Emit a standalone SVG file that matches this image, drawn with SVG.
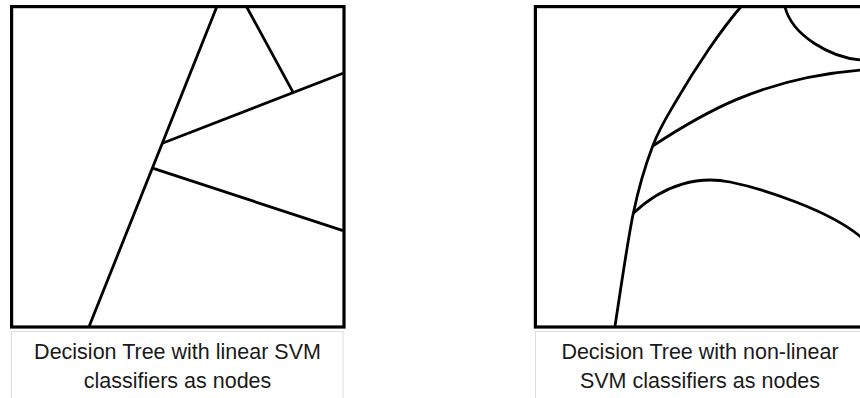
<svg xmlns="http://www.w3.org/2000/svg" width="860" height="398" viewBox="0 0 860 398">
  <style>
    .frame { fill: #ffffff; stroke: #000000; stroke-width: 3.2; }
    .cap { fill: #ffffff; stroke: #dcdcdc; stroke-width: 1; }
    .bound { fill: none; stroke: #000000; stroke-width: 2.8; stroke-linecap: butt; }
    .label { font-family: "Liberation Sans", Arial, sans-serif; font-size: 21.5px; fill: #1a1a1a; text-anchor: middle; }
  </style>
  <rect width="860" height="398" fill="#ffffff"/>

  <g id="linear-panel">
    <rect class="frame" x="11.6" y="6.6" width="332.4" height="320.4"/>
  </g>
  <g id="linear-caption">
    <rect class="cap" x="11.5" y="331.5" width="331.5" height="80"/>
    <text class="label" x="177.5" y="359">Decision Tree with linear SVM</text>
    <text class="label" x="177.5" y="388">classifiers as nodes</text>
  </g>

  <g id="nonlinear-panel">
    <rect class="frame" x="535.4" y="6.6" width="332.4" height="320.4"/>
  </g>
  <g id="nonlinear-caption">
    <rect class="cap" x="535.5" y="331.5" width="340" height="80"/>
    <text class="label" x="700" y="359">Decision Tree with non-linear</text>
    <text class="label" x="700" y="388">SVM classifiers as nodes</text>
  </g>

  <g id="connectors">
    <line class="bound" x1="89.3" y1="326" x2="216.7" y2="7"/>
    <line class="bound" x1="246.7" y1="7" x2="292.7" y2="91.7"/>
    <line class="bound" x1="162.4" y1="143.3" x2="343" y2="73.3"/>
    <line class="bound" x1="153.3" y1="168.3" x2="343" y2="230.7"/>

    <path class="bound" d="M615,326 C618,307.8 627,243.4 633.3,213.3 C639.6,183.2 645.5,164.9 652.7,146 C659.9,127.1 667.4,116 676.7,100 C686,84 697.6,65.7 708.3,50 C719,34.3 735.3,13.3 740.7,7"/>
    <path class="bound" d="M652.7,146 C700,115 760,78 862,70"/>
    <path class="bound" d="M785,7 C792,35 830,58 862,60"/>
    <path class="bound" d="M633.3,213.3 C665,183 700,176 730,182 C760,188 830,210 862,238"/>
  </g>
</svg>
